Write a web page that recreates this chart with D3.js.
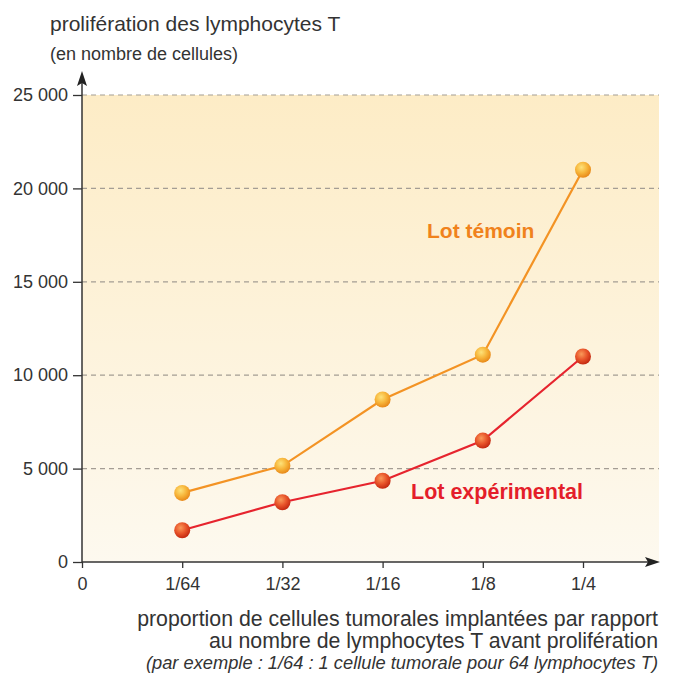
<!DOCTYPE html>
<html>
<head>
<meta charset="utf-8">
<script src="https://cdn.jsdelivr.net/npm/d3@7"></script>
<style>
  body { margin: 0; background: #fff; }
  text { font-family: "Liberation Sans", Arial, sans-serif; fill: #333; }
</style>
</head>
<body>
<div id="chart"></div>
<script>
// Categories on the x axis (0 is only an origin label)
var categories = ["1/64", "1/32", "1/16", "1/8", "1/4"];
var xTickLabels = ["0", "1/64", "1/32", "1/16", "1/8", "1/4"];

// Series values (nombre de cellules)
var temoinValues = [3700, 5150, 8700, 11100, 21000];
var experimentalValues = [1700, 3200, 4350, 6500, 11000];

// Y ticks
var yTicks = [0, 5000, 10000, 15000, 20000, 25000];

var svgWidth = 676;
var svgHeight = 677;

var margin = { top: 95, right: 18, bottom: 115, left: 82 };
var chartWidth = svgWidth - margin.left - margin.right;
var chartHeight = svgHeight - margin.top - margin.bottom;

var svg = d3.select("#chart")
  .append("svg")
  .attr("width", svgWidth)
  .attr("height", svgHeight);

var defs = svg.append("defs");

// background gradient
var bg = defs.append("linearGradient")
  .attr("id", "bgGrad")
  .attr("x1", 0).attr("y1", 0).attr("x2", 0).attr("y2", 1);
bg.append("stop").attr("offset", "0%").attr("stop-color", "#fdecc6");
bg.append("stop").attr("offset", "100%").attr("stop-color", "#fdf9ef");

// ball gradients
function ball(id, light, mid, dark) {
  var g = defs.append("radialGradient")
    .attr("id", id)
    .attr("cx", "40%").attr("cy", "35%").attr("r", "65%");
  g.append("stop").attr("offset", "0%").attr("stop-color", light);
  g.append("stop").attr("offset", "55%").attr("stop-color", mid);
  g.append("stop").attr("offset", "100%").attr("stop-color", dark);
}
ball("ballOrange", "#fde27a", "#f7b53a", "#e88a1a");
ball("ballRed", "#f99a5a", "#e8542a", "#c42a12");

var chartGroup = svg.append("g")
  .attr("transform", `translate(${margin.left}, ${margin.top})`);

// scales
var xScale = d3.scalePoint()
  .domain(xTickLabels)
  .range([0, 501]);

var yScale = d3.scaleLinear()
  .domain([0, 25000])
  .range([chartHeight, 0]);

// background
chartGroup.append("rect")
  .attr("x", 0)
  .attr("y", yScale(25000))
  .attr("width", 577)
  .attr("height", chartHeight)
  .attr("fill", "url(#bgGrad)");

// gridlines
chartGroup.selectAll(".grid")
  .data(yTicks.filter(d => d > 0))
  .enter()
  .append("line")
  .attr("x1", 0)
  .attr("x2", 577)
  .attr("y1", d => yScale(d))
  .attr("y2", d => yScale(d))
  .attr("stroke", "#a49d94")
  .attr("stroke-width", 1.2)
  .attr("stroke-dasharray", "5,4");

// left axis
var leftAxis = d3.axisLeft(yScale)
  .tickValues(yTicks)
  .tickSize(9)
  .tickPadding(5)
  .tickFormat(d => d === 0 ? "0" : d3.format(",")(d).replace(",", " "));

var yAxisG = chartGroup.append("g").call(leftAxis);
yAxisG.select(".domain").remove();
yAxisG.selectAll("line").attr("stroke", "#333").attr("stroke-width", 1.3);
yAxisG.selectAll("text")
  .style("font-size", "18px")
  .style("fill", "#333");

// bottom axis
var bottomAxis = d3.axisBottom(xScale)
  .tickSize(6)
  .tickPadding(9);

var xAxisG = chartGroup.append("g")
  .attr("transform", "translate(0, " + chartHeight + ")")
  .call(bottomAxis);
xAxisG.select(".domain").remove();
xAxisG.selectAll("line").attr("stroke", "#333").attr("stroke-width", 1.3);
xAxisG.selectAll("text")
  .style("font-size", "18px")
  .style("fill", "#333");

// axis lines with arrows
chartGroup.append("line")
  .attr("x1", 0).attr("x2", 0)
  .attr("y1", chartHeight).attr("y2", -12)
  .attr("stroke", "#333").attr("stroke-width", 1.5);
chartGroup.append("path")
  .attr("d", "M0,-24 L-5,-9 L0,-12 L5,-9 Z")
  .attr("fill", "#222");

chartGroup.append("line")
  .attr("x1", 0).attr("x2", 570)
  .attr("y1", chartHeight).attr("y2", chartHeight)
  .attr("stroke", "#333").attr("stroke-width", 1.5);
chartGroup.append("path")
  .attr("d", `M578,${chartHeight} L563,${chartHeight - 5} L566,${chartHeight} L563,${chartHeight + 5} Z`)
  .attr("fill", "#222");

// lines
var line = d3.line()
  .x((d, i) => xScale(categories[i]))
  .y(d => yScale(d));

chartGroup.append("path")
  .datum(temoinValues)
  .attr("d", line)
  .attr("fill", "none")
  .attr("stroke", "#f39324")
  .attr("stroke-width", 2.2);

chartGroup.append("path")
  .datum(experimentalValues)
  .attr("d", line)
  .attr("fill", "none")
  .attr("stroke", "#e6242e")
  .attr("stroke-width", 2.2);

// points
chartGroup.selectAll(".pt-t")
  .data(temoinValues)
  .enter()
  .append("circle")
  .attr("cx", (d, i) => xScale(categories[i]))
  .attr("cy", d => yScale(d))
  .attr("r", 8)
  .attr("fill", "url(#ballOrange)");

chartGroup.selectAll(".pt-e")
  .data(experimentalValues)
  .enter()
  .append("circle")
  .attr("cx", (d, i) => xScale(categories[i]))
  .attr("cy", d => yScale(d))
  .attr("r", 8)
  .attr("fill", "url(#ballRed)");

// series labels
svg.append("text")
  .attr("x", 427)
  .attr("y", 238)
  .style("font-size", "21px")
  .style("font-weight", "bold")
  .style("fill", "#f0821c")
  .text("Lot témoin");

svg.append("text")
  .attr("x", 411)
  .attr("y", 499)
  .style("font-size", "21.5px")
  .style("font-weight", "bold")
  .style("fill", "#e41e2a")
  .text("Lot expérimental");

// y title
svg.append("text")
  .attr("x", 50)
  .attr("y", 31)
  .style("font-size", "21px")
  .style("fill", "#333")
  .text("prolifération des lymphocytes T");

svg.append("text")
  .attr("x", 50)
  .attr("y", 60)
  .style("font-size", "18px")
  .style("fill", "#333")
  .text("(en nombre de cellules)");

// x title
svg.append("text")
  .attr("x", 658)
  .attr("y", 626)
  .attr("text-anchor", "end")
  .style("font-size", "21.3px")
  .style("fill", "#333")
  .text("proportion de cellules tumorales implantées par rapport");

svg.append("text")
  .attr("x", 658)
  .attr("y", 648)
  .attr("text-anchor", "end")
  .style("font-size", "21.3px")
  .style("fill", "#333")
  .text("au nombre de lymphocytes T avant prolifération");

svg.append("text")
  .attr("x", 658)
  .attr("y", 669)
  .attr("text-anchor", "end")
  .style("font-size", "18.3px")
  .style("font-style", "italic")
  .style("fill", "#333")
  .text("(par exemple : 1/64 : 1 cellule tumorale pour 64 lymphocytes T)");
</script>
</body>
</html>
